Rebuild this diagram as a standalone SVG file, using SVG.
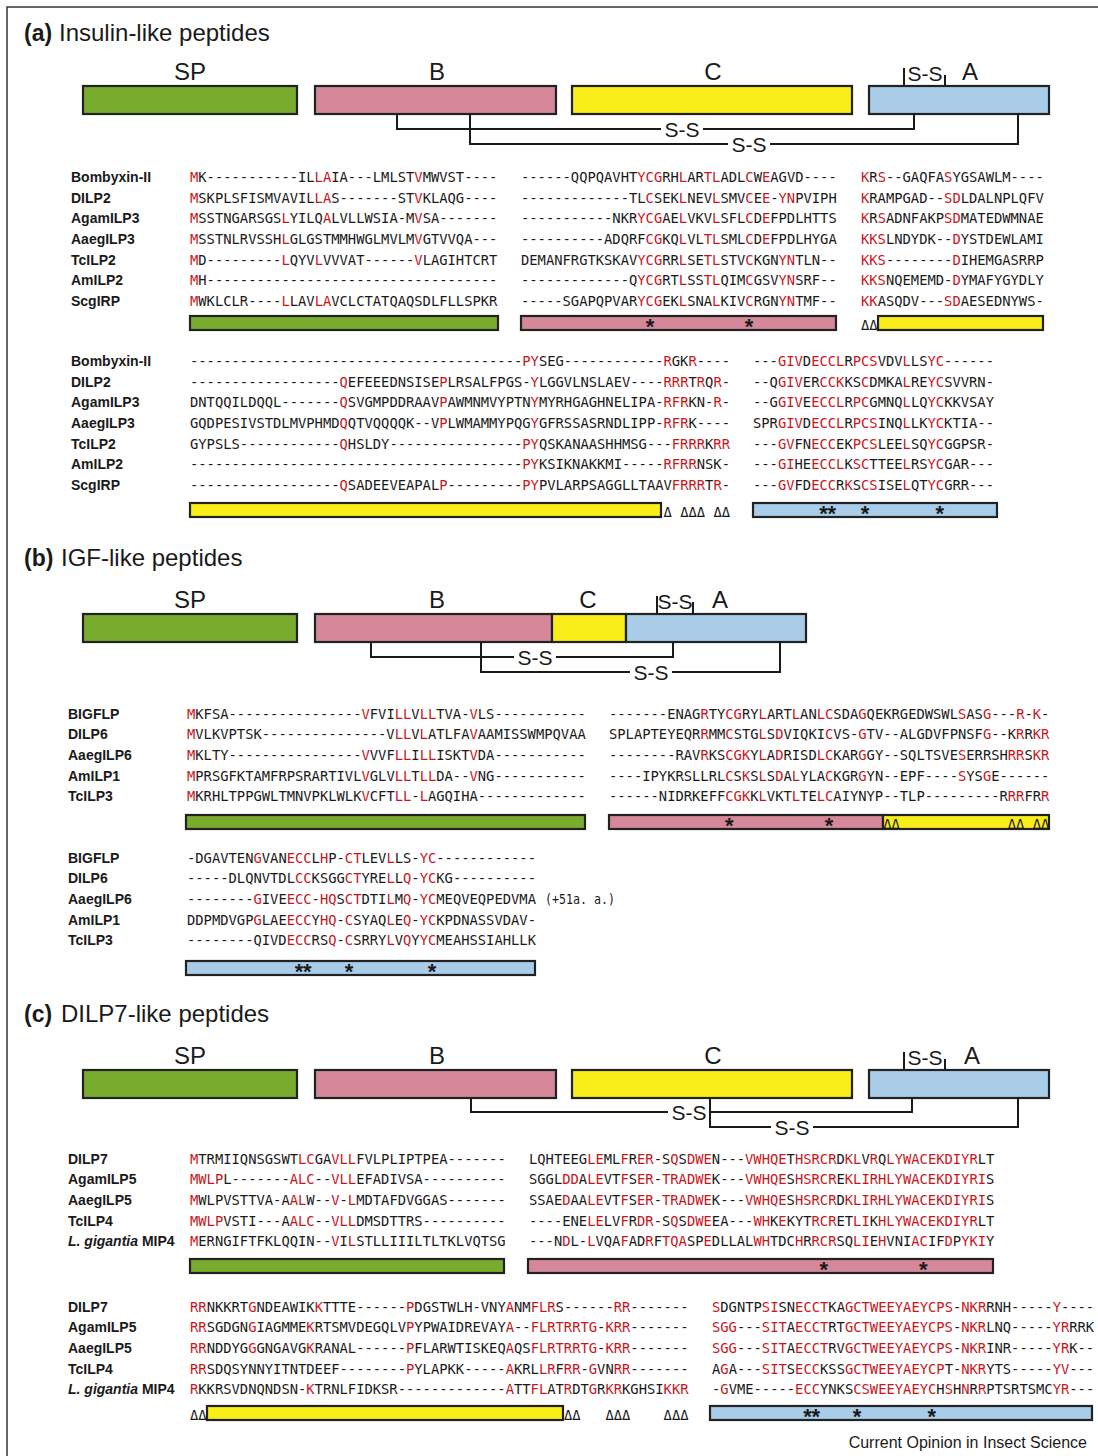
<svg xmlns="http://www.w3.org/2000/svg" width="1098" height="1456" viewBox="0 0 1098 1456">
<style>
.sans{font-family:"Liberation Sans",Arial,sans-serif;fill:#1a1a1a}
.ttl{font-size:24px}
.tb{font-weight:bold;font-size:23px}
.dl{font-size:24px;text-anchor:middle}
.ss{font-size:21px;text-anchor:middle}
.lab{font-family:"Liberation Sans",Arial,sans-serif;font-weight:bold;font-size:14px;fill:#1a1a1a}
.seq{font-family:"DejaVu Sans Mono",monospace;font-size:13.8px;fill:#1a1a1a}
.r{fill:#C8161D}
.tri{font-family:"DejaVu Sans Mono",monospace;font-size:13.8px;fill:#1a1a1a}
.star{font-family:"Liberation Sans",Arial,sans-serif;font-weight:bold;font-size:22px;fill:#1a1a1a;text-anchor:middle}
.bar{stroke:#222;stroke-width:2.2}
.gr{fill:#79AC2E}.pk{fill:#D4889A}.ye{fill:#F9ED1A}.bl{fill:#A9CDE8}
.con{fill:none;stroke:#1a1a1a;stroke-width:2}
.bg{fill:#fff}
</style>
<rect width="1098" height="1456" fill="#fff"/>
<path d="M7,1456 V7 H1098" fill="none" stroke="#333" stroke-width="1.5"/>

<!-- ================= (a) ================= -->
<g id="title-a"><text class="sans tb" x="24" y="41">(a)</text><text class="sans ttl" x="59" y="41">Insulin-like peptides</text></g>
<g id="a-SP"><rect class="bar gr" x="83" y="86" width="214" height="28"/><text class="sans dl" x="190" y="80">SP</text></g>
<g id="a-B"><rect class="bar pk" x="315" y="86" width="241" height="28"/><text class="sans dl" x="437" y="80">B</text></g>
<g id="a-C"><rect class="bar ye" x="572" y="86" width="280" height="28"/><text class="sans dl" x="713" y="80">C</text></g>
<g id="a-A"><rect class="bar bl" x="869" y="86" width="180" height="28"/><text class="sans dl" x="970" y="80">A</text></g>

<!-- ================= (b) ================= -->
<g id="title-b"><text class="sans tb" x="24" y="566">(b)</text><text class="sans ttl" x="61" y="566">IGF-like peptides</text></g>
<g id="b-SP"><rect class="bar gr" x="83" y="614" width="214" height="28"/><text class="sans dl" x="190" y="608">SP</text></g>
<g id="b-B"><rect class="bar pk" x="315" y="614" width="237" height="28"/><text class="sans dl" x="437" y="608">B</text></g>
<g id="b-C"><rect class="bar ye" x="552" y="614" width="74" height="28"/><text class="sans dl" x="588" y="608">C</text></g>
<g id="b-A"><rect class="bar bl" x="626" y="614" width="180" height="28"/><text class="sans dl" x="720" y="608">A</text></g>

<!-- ================= (c) ================= -->
<g id="title-c"><text class="sans tb" x="24" y="1022">(c)</text><text class="sans ttl" x="61" y="1022">DILP7-like peptides</text></g>
<g id="c-SP"><rect class="bar gr" x="83" y="1070" width="214" height="28"/><text class="sans dl" x="190" y="1064">SP</text></g>
<g id="c-B"><rect class="bar pk" x="315" y="1070" width="241" height="28"/><text class="sans dl" x="437" y="1064">B</text></g>
<g id="c-C"><rect class="bar ye" x="572" y="1070" width="280" height="28"/><text class="sans dl" x="713" y="1064">C</text></g>
<g id="c-A"><rect class="bar bl" x="869" y="1070" width="180" height="28"/><text class="sans dl" x="972" y="1064">A</text></g>

<!-- ================= connectors ================= -->
<g id="connectors">
<path class="con" d="M904,86 V68 M945,86 V75"/>
<text class="sans ss" x="925" y="81">S-S</text>
<path class="con" d="M397,114 V129 H914 V114"/>
<rect class="bg" x="661" y="121" width="42" height="17"/><text class="sans ss" x="682" y="137">S-S</text>
<path class="con" d="M470,114 V144 H1018 V114"/>
<rect class="bg" x="728" y="136" width="42" height="17"/><text class="sans ss" x="749" y="152">S-S</text>

<path class="con" d="M657,614 V596 M693,614 V602"/>
<text class="sans ss" x="675" y="609">S-S</text>
<path class="con" d="M371,642 V657 H673 V642"/>
<rect class="bg" x="514" y="649" width="42" height="17"/><text class="sans ss" x="535" y="665">S-S</text>
<path class="con" d="M481,642 V672 H780 V642"/>
<rect class="bg" x="630" y="664" width="42" height="17"/><text class="sans ss" x="651" y="680">S-S</text>

<path class="con" d="M904,1070 V1052 M945,1070 V1059"/>
<text class="sans ss" x="925" y="1065">S-S</text>
<path class="con" d="M471,1098 V1112 H912 V1098"/>
<rect class="bg" x="668" y="1104" width="42" height="17"/><text class="sans ss" x="689" y="1120">S-S</text>
<path class="con" d="M710,1098 V1127 H1018 V1098"/>
<rect class="bg" x="771" y="1119" width="42" height="17"/><text class="sans ss" x="792" y="1135">S-S</text>
</g>

<!-- ================= (a) alignment 1 ================= -->
<g id="a-align1">
<text class="lab" x="71" y="182">Bombyxin-II</text>
<text class="lab" x="71" y="202.7">DILP2</text>
<text class="lab" x="71" y="223.3">AgamILP3</text>
<text class="lab" x="71" y="244">AaegILP3</text>
<text class="lab" x="71" y="264.7">TcILP2</text>
<text class="lab" x="71" y="285.3">AmILP2</text>
<text class="lab" x="71" y="306">ScgIRP</text>

<text class="seq" x="190" y="182"><tspan class="r">M</tspan>K-----------IL<tspan class="r">LA</tspan>IA---LMLST<tspan class="r">V</tspan>MWVST----</text>
<text class="seq" x="190" y="202.7"><tspan class="r">M</tspan>SKPLSFISMVAVIL<tspan class="r">LA</tspan>S-------ST<tspan class="r">V</tspan>KLAQG----</text>
<text class="seq" x="190" y="223.3"><tspan class="r">M</tspan>SSTNGARSGS<tspan class="r">L</tspan>YILQ<tspan class="r">A</tspan>LVLLWSIA-M<tspan class="r">V</tspan>SA-------</text>
<text class="seq" x="190" y="244"><tspan class="r">M</tspan>SSTNLRVSSH<tspan class="r">L</tspan>GLGSTMMHWGLMVLM<tspan class="r">V</tspan>GTVVQA---</text>
<text class="seq" x="190" y="264.7"><tspan class="r">M</tspan>D---------<tspan class="r">L</tspan>QYV<tspan class="r">L</tspan>VVVAT------<tspan class="r">V</tspan>LAGIHTCRT</text>
<text class="seq" x="190" y="285.3"><tspan class="r">M</tspan>H-----------------------------------</text>
<text class="seq" x="190" y="306"><tspan class="r">M</tspan>WKLCLR----<tspan class="r">L</tspan>LAV<tspan class="r">LA</tspan>VCLCTATQAQSDLFLLSPKR</text>

<text class="seq" x="521" y="182">------QQPQAVHT<tspan class="r">YCG</tspan>RH<tspan class="r">L</tspan>AR<tspan class="r">TL</tspan>ADL<tspan class="r">C</tspan>W<tspan class="r">E</tspan>AGVD----</text>
<text class="seq" x="521" y="202.7">-------------TL<tspan class="r">C</tspan>SEK<tspan class="r">L</tspan>NEV<tspan class="r">L</tspan>SMV<tspan class="r">C</tspan>E<tspan class="r">E</tspan>-<tspan class="r">YN</tspan>PVIPH</text>
<text class="seq" x="521" y="223.3">-----------NKR<tspan class="r">YCG</tspan>AE<tspan class="r">L</tspan>VKV<tspan class="r">L</tspan>SFL<tspan class="r">C</tspan>D<tspan class="r">E</tspan>FPDLHTTS</text>
<text class="seq" x="521" y="244">----------ADQRF<tspan class="r">CG</tspan>KQ<tspan class="r">L</tspan>VL<tspan class="r">TL</tspan>SML<tspan class="r">C</tspan>D<tspan class="r">E</tspan>FPDLHYGA</text>
<text class="seq" x="521" y="264.7">DEMANFRGTKSKAV<tspan class="r">YCG</tspan>RR<tspan class="r">L</tspan>SE<tspan class="r">TL</tspan>STV<tspan class="r">C</tspan>KGN<tspan class="r">YN</tspan>TLN--</text>
<text class="seq" x="521" y="285.3">-------------Q<tspan class="r">YCG</tspan>RT<tspan class="r">L</tspan>SS<tspan class="r">TL</tspan>QIM<tspan class="r">C</tspan>GSV<tspan class="r">YN</tspan>SRF--</text>
<text class="seq" x="521" y="306">-----SGAPQPVAR<tspan class="r">YCG</tspan>EK<tspan class="r">L</tspan>SNA<tspan class="r">L</tspan>KIV<tspan class="r">C</tspan>RGN<tspan class="r">YN</tspan>TMF--</text>

<text class="seq" x="861" y="182"><tspan class="r">K</tspan>R<tspan class="r">S</tspan>--GAQFA<tspan class="r">S</tspan>YGSAWLM----</text>
<text class="seq" x="861" y="202.7"><tspan class="r">K</tspan>RAMPGAD--<tspan class="r">SD</tspan>LDALNPLQFV</text>
<text class="seq" x="861" y="223.3"><tspan class="r">K</tspan>R<tspan class="r">S</tspan>ADNFAKP<tspan class="r">SD</tspan>MATEDWMNAE</text>
<text class="seq" x="861" y="244"><tspan class="r">KKS</tspan>LNDYDK--<tspan class="r">D</tspan>YSTDEWLAMI</text>
<text class="seq" x="861" y="264.7"><tspan class="r">KKS</tspan>--------<tspan class="r">D</tspan>IHEMGASRRP</text>
<text class="seq" x="861" y="285.3"><tspan class="r">KKS</tspan>NQEMEMD-<tspan class="r">D</tspan>YMAFYGYDLY</text>
<text class="seq" x="861" y="306"><tspan class="r">KK</tspan>ASQDV---<tspan class="r">SD</tspan>AESEDNYWS-</text>

<rect class="bar gr" x="190" y="316" width="308" height="14"/>
<rect class="bar pk" x="521" y="316" width="315" height="14"/>
<rect class="bar ye" x="878" y="316" width="165" height="14"/>
<text class="tri" x="861" y="330">ΔΔ</text>
<text class="star" x="650" y="333.5">*</text><text class="star" x="749" y="333.5">*</text>
</g>

<!-- ================= (a) alignment 2 ================= -->
<g id="a-align2">
<text class="lab" x="71" y="366">Bombyxin-II</text>
<text class="lab" x="71" y="386.7">DILP2</text>
<text class="lab" x="71" y="407.3">AgamILP3</text>
<text class="lab" x="71" y="428">AaegILP3</text>
<text class="lab" x="71" y="448.7">TcILP2</text>
<text class="lab" x="71" y="469.3">AmILP2</text>
<text class="lab" x="71" y="490">ScgIRP</text>

<text class="seq" x="190" y="366">----------------------------------------<tspan class="r">PY</tspan>SEG------------<tspan class="r">R</tspan>GK<tspan class="r">R</tspan>----</text>
<text class="seq" x="190" y="386.7">------------------<tspan class="r">Q</tspan>EFEEEDNSISE<tspan class="r">P</tspan>LRSALFPGS-<tspan class="r">Y</tspan>LGGVLNSLAEV----<tspan class="r">RRR</tspan>T<tspan class="r">R</tspan>Q<tspan class="r">R</tspan>-</text>
<text class="seq" x="190" y="407.3">DNTQQILDQQL-------<tspan class="r">Q</tspan>SVGMPDDRAAV<tspan class="r">P</tspan>AWMNMVYPTN<tspan class="r">Y</tspan>MYRHGAGHNELIPA-<tspan class="r">RFR</tspan>KN-<tspan class="r">R</tspan>-</text>
<text class="seq" x="190" y="428">GQDPESIVSTDLMVPHMD<tspan class="r">Q</tspan>QTVQQQQK--V<tspan class="r">P</tspan>LWMAMMYPQG<tspan class="r">Y</tspan>GFRSSASRNDLIPP-<tspan class="r">RFR</tspan>K----</text>
<text class="seq" x="190" y="448.7">GYPSLS------------<tspan class="r">Q</tspan>HSLDY----------------<tspan class="r">PY</tspan>QSKANAASHHMSG---<tspan class="r">FRRR</tspan>K<tspan class="r">RR</tspan></text>
<text class="seq" x="190" y="469.3">----------------------------------------<tspan class="r">PY</tspan>KSIKNAKKMI-----<tspan class="r">RFRR</tspan>NSK-</text>
<text class="seq" x="190" y="490">------------------<tspan class="r">Q</tspan>SADEEVEAPAL<tspan class="r">P</tspan>---------<tspan class="r">PY</tspan>PVLARPSAGGLLTAAV<tspan class="r">FRRR</tspan>T<tspan class="r">R</tspan>-</text>

<text class="seq" x="753" y="366">---<tspan class="r">GIV</tspan>D<tspan class="r">ECCL</tspan>R<tspan class="r">PCS</tspan>VDV<tspan class="r">L</tspan>LS<tspan class="r">YC</tspan>------</text>
<text class="seq" x="753" y="386.7">--Q<tspan class="r">GIV</tspan>ER<tspan class="r">CCK</tspan>KS<tspan class="r">C</tspan>DMKA<tspan class="r">L</tspan>RE<tspan class="r">YC</tspan>SVVRN-</text>
<text class="seq" x="753" y="407.3">--G<tspan class="r">GIV</tspan>E<tspan class="r">ECCL</tspan>R<tspan class="r">PC</tspan>GMNQ<tspan class="r">L</tspan>LQ<tspan class="r">YC</tspan>KKVSAY</text>
<text class="seq" x="753" y="428">SPR<tspan class="r">GIV</tspan>D<tspan class="r">ECCL</tspan>R<tspan class="r">PCS</tspan>INQ<tspan class="r">L</tspan>LK<tspan class="r">YC</tspan>KTIA--</text>
<text class="seq" x="753" y="448.7">---<tspan class="r">GV</tspan>FN<tspan class="r">ECC</tspan>EK<tspan class="r">PCS</tspan>LEE<tspan class="r">L</tspan>SQ<tspan class="r">YC</tspan>GGPSR-</text>
<text class="seq" x="753" y="469.3">---<tspan class="r">GI</tspan>HE<tspan class="r">ECCL</tspan>K<tspan class="r">SC</tspan>TTEE<tspan class="r">L</tspan>RS<tspan class="r">YC</tspan>GAR---</text>
<text class="seq" x="753" y="490">---<tspan class="r">GV</tspan>FD<tspan class="r">ECC</tspan>R<tspan class="r">K</tspan>S<tspan class="r">CS</tspan>ISE<tspan class="r">L</tspan>QT<tspan class="r">YC</tspan>GRR---</text>

<rect class="bar ye" x="190" y="503" width="471" height="14"/>
<rect class="bar bl" x="753" y="503" width="244" height="14"/>
<text class="tri" x="663.6" y="517">Δ ΔΔΔ ΔΔ</text>
<text class="star" x="823.6" y="520.5">*</text><text class="star" x="831.9" y="520.5">*</text>
<text class="star" x="865" y="520.5">*</text><text class="star" x="939.7" y="520.5">*</text>
</g>

<!-- ================= (b) alignment 1 ================= -->
<g id="b-align1">
<text class="lab" x="68" y="718.5">BIGFLP</text>
<text class="lab" x="68" y="739.2">DILP6</text>
<text class="lab" x="68" y="759.8">AaegILP6</text>
<text class="lab" x="68" y="780.5">AmILP1</text>
<text class="lab" x="68" y="801.2">TcILP3</text>

<text class="seq" x="187" y="718.5"><tspan class="r">M</tspan>KFSA----------------<tspan class="r">V</tspan>FVI<tspan class="r">LL</tspan>V<tspan class="r">LL</tspan>TVA-<tspan class="r">V</tspan>LS-----------</text>
<text class="seq" x="187" y="739.2"><tspan class="r">M</tspan>VLKVPTSK---------------V<tspan class="r">LL</tspan>V<tspan class="r">L</tspan>ATLFA<tspan class="r">V</tspan>AAMISSWMPQVAA</text>
<text class="seq" x="187" y="759.8"><tspan class="r">M</tspan>KLTY----------------<tspan class="r">V</tspan>VVF<tspan class="r">LL</tspan>I<tspan class="r">LL</tspan>ISKT<tspan class="r">V</tspan>DA-----------</text>
<text class="seq" x="187" y="780.5"><tspan class="r">M</tspan>PRSGFKTAMFRPSRARTIVL<tspan class="r">V</tspan>GLV<tspan class="r">LL</tspan>T<tspan class="r">LL</tspan>DA--<tspan class="r">V</tspan>NG-----------</text>
<text class="seq" x="187" y="801.2"><tspan class="r">M</tspan>KRHLTPPGWLTMNVPKLWLK<tspan class="r">V</tspan>CFT<tspan class="r">LL</tspan>-<tspan class="r">L</tspan>AGQIHA-------------</text>

<text class="seq" x="609" y="718.5">-------ENAG<tspan class="r">R</tspan>TY<tspan class="r">CG</tspan>RY<tspan class="r">L</tspan>ART<tspan class="r">L</tspan>AN<tspan class="r">LC</tspan>SDA<tspan class="r">G</tspan>QEKRGEDWSWL<tspan class="r">S</tspan>AS<tspan class="r">G</tspan>---<tspan class="r">R</tspan>-<tspan class="r">K</tspan>-</text>
<text class="seq" x="609" y="739.2">SPLAPTEYEQR<tspan class="r">R</tspan>MM<tspan class="r">C</tspan>STG<tspan class="r">L</tspan>S<tspan class="r">D</tspan>VIQKI<tspan class="r">C</tspan>VS-<tspan class="r">G</tspan>TV--ALGDVFPNSF<tspan class="r">G</tspan>--K<tspan class="r">R</tspan>R<tspan class="r">KR</tspan></text>
<text class="seq" x="609" y="759.8">--------RAV<tspan class="r">R</tspan>KS<tspan class="r">CGK</tspan>Y<tspan class="r">L</tspan>A<tspan class="r">D</tspan>RISD<tspan class="r">LC</tspan>KAR<tspan class="r">G</tspan>GY--SQLTSVE<tspan class="r">S</tspan>ERRSH<tspan class="r">RR</tspan>S<tspan class="r">KR</tspan></text>
<text class="seq" x="609" y="780.5">----IPYKRSLLRL<tspan class="r">C</tspan>S<tspan class="r">K</tspan>S<tspan class="r">L</tspan>S<tspan class="r">D</tspan>A<tspan class="r">L</tspan>YLA<tspan class="r">C</tspan>KGR<tspan class="r">G</tspan>YN--EPF----<tspan class="r">S</tspan>YS<tspan class="r">G</tspan>E------</text>
<text class="seq" x="609" y="801.2">------NIDRKEFF<tspan class="r">CGK</tspan>K<tspan class="r">L</tspan>VKT<tspan class="r">L</tspan>TE<tspan class="r">LC</tspan>AIYNYP--TLP---------R<tspan class="r">RR</tspan>FR<tspan class="r">R</tspan></text>

<rect class="bar gr" x="186" y="815" width="399" height="14"/>
<rect class="bar pk" x="609" y="815" width="274" height="14"/>
<rect class="bar ye" x="883" y="815" width="166" height="14"/>
<text class="tri" x="883.2" y="829">ΔΔ</text>
<text class="tri" x="1007.8" y="829">ΔΔ ΔΔ</text>
<text class="star" x="729.4" y="832.5">*</text><text class="star" x="829" y="832.5">*</text>
</g>

<!-- ================= (b) alignment 2 ================= -->
<g id="b-align2">
<text class="lab" x="68" y="862.5">BIGFLP</text>
<text class="lab" x="68" y="883.2">DILP6</text>
<text class="lab" x="68" y="903.8">AaegILP6</text>
<text class="lab" x="68" y="924.5">AmILP1</text>
<text class="lab" x="68" y="945.2">TcILP3</text>

<text class="seq" x="187" y="862.5">-DGAVTEN<tspan class="r">G</tspan>VAN<tspan class="r">ECC</tspan>L<tspan class="r">H</tspan>P-<tspan class="r">CT</tspan>LEV<tspan class="r">L</tspan>LS-<tspan class="r">YC</tspan>------------</text>
<text class="seq" x="187" y="883.2">-----DLQNVTDL<tspan class="r">CC</tspan>KSGG<tspan class="r">CT</tspan>YRE<tspan class="r">L</tspan>L<tspan class="r">Q</tspan>-<tspan class="r">YC</tspan>KG----------</text>
<text class="seq" x="187" y="903.8">--------<tspan class="r">G</tspan>IVE<tspan class="r">ECC</tspan>-<tspan class="r">HQ</tspan>S<tspan class="r">CT</tspan>DTI<tspan class="r">L</tspan>M<tspan class="r">Q</tspan>-<tspan class="r">YC</tspan>MEQVEQPEDVMA</text>
<text class="seq" x="187" y="924.5">DDPMDVGP<tspan class="r">G</tspan>LAE<tspan class="r">ECC</tspan>Y<tspan class="r">HQ</tspan>-<tspan class="r">C</tspan>SYAQ<tspan class="r">L</tspan>E<tspan class="r">Q</tspan>-<tspan class="r">YC</tspan>KPDNASSVDAV-</text>
<text class="seq" x="187" y="945.2">--------QIVD<tspan class="r">ECC</tspan>RS<tspan class="r">Q</tspan>-<tspan class="r">C</tspan>SRRY<tspan class="r">L</tspan>V<tspan class="r">Q</tspan>Y<tspan class="r">YC</tspan>MEAHSSIAHLLK</text>
<text class="seq" x="545" y="903.8" textLength="70" lengthAdjust="spacingAndGlyphs">(+51a. a.)</text>

<rect class="bar bl" x="186" y="961" width="349" height="14"/>
<text class="star" x="299" y="978.5">*</text><text class="star" x="307.3" y="978.5">*</text>
<text class="star" x="349" y="978.5">*</text><text class="star" x="432" y="978.5">*</text>
</g>

<!-- ================= (c) alignment 1 ================= -->
<g id="c-align1">
<text class="lab" x="68" y="1163.5">DILP7</text>
<text class="lab" x="68" y="1184.2">AgamILP5</text>
<text class="lab" x="68" y="1204.8">AaegILP5</text>
<text class="lab" x="68" y="1225.5">TcILP4</text>
<text class="lab" x="68" y="1246.2"><tspan font-style="italic">L. gigantia</tspan> MIP4</text>

<text class="seq" x="190" y="1163.5"><tspan class="r">M</tspan>TRMIIQNSGSWT<tspan class="r">LC</tspan>GA<tspan class="r">VLL</tspan>FVLPLIPTPEA-------</text>
<text class="seq" x="190" y="1184.2"><tspan class="r">MWLP</tspan>L-------<tspan class="r">ALC</tspan>--<tspan class="r">VLL</tspan>EFADIVSA----------</text>
<text class="seq" x="190" y="1204.8"><tspan class="r">M</tspan>WLPVSTTVA-A<tspan class="r">AL</tspan>W--<tspan class="r">V</tspan>-<tspan class="r">L</tspan>MDTAFDVGGAS-------</text>
<text class="seq" x="190" y="1225.5"><tspan class="r">MWLP</tspan>VSTI---A<tspan class="r">ALC</tspan>--<tspan class="r">VLL</tspan>DMSDTTRS----------</text>
<text class="seq" x="190" y="1246.2"><tspan class="r">M</tspan>ERNGIFTFKLQQIN--<tspan class="r">V</tspan>I<tspan class="r">L</tspan>STLLIIILTLTKLVQTSG</text>

<text class="seq" x="529" y="1163.5">LQHTEEG<tspan class="r">LE</tspan>ML<tspan class="r">F</tspan>R<tspan class="r">ER</tspan>-S<tspan class="r">Q</tspan>S<tspan class="r">DWE</tspan>N---<tspan class="r">VWHQE</tspan>T<tspan class="r">HSRCR</tspan>D<tspan class="r">KL</tspan>V<tspan class="r">R</tspan>Q<tspan class="r">LYWACEKDIYR</tspan>LT</text>
<text class="seq" x="529" y="1184.2">SGGL<tspan class="r">DD</tspan>A<tspan class="r">LE</tspan>VT<tspan class="r">F</tspan>S<tspan class="r">ER</tspan>-<tspan class="r">TRADWE</tspan>K---<tspan class="r">VWHQE</tspan>S<tspan class="r">HSRCR</tspan>E<tspan class="r">KLIRHLYWACEKDIYRI</tspan>S</text>
<text class="seq" x="529" y="1204.8">SSAE<tspan class="r">D</tspan>AA<tspan class="r">LE</tspan>VT<tspan class="r">F</tspan>S<tspan class="r">ER</tspan>-<tspan class="r">TRADWE</tspan>K---<tspan class="r">VWHQE</tspan>S<tspan class="r">HSRCR</tspan>D<tspan class="r">KLIRHLYWACEKDIYRI</tspan>S</text>
<text class="seq" x="529" y="1225.5">----ENE<tspan class="r">LE</tspan>LV<tspan class="r">F</tspan>R<tspan class="r">DR</tspan>-S<tspan class="r">Q</tspan>S<tspan class="r">DWE</tspan>EA---<tspan class="r">WH</tspan>K<tspan class="r">E</tspan>KYT<tspan class="r">RCR</tspan>ET<tspan class="r">LI</tspan>K<tspan class="r">HLYWACEKDIYR</tspan>LT</text>
<text class="seq" x="529" y="1246.2">---N<tspan class="r">D</tspan>L-<tspan class="r">L</tspan>VQA<tspan class="r">F</tspan>AD<tspan class="r">R</tspan>F<tspan class="r">TQA</tspan>SP<tspan class="r">E</tspan>DLLAL<tspan class="r">WH</tspan>TDC<tspan class="r">H</tspan>R<tspan class="r">RCR</tspan>SQ<tspan class="r">LI</tspan>E<tspan class="r">H</tspan>VNI<tspan class="r">AC</tspan>IF<tspan class="r">D</tspan>P<tspan class="r">YKI</tspan>Y</text>

<rect class="bar gr" x="190" y="1259" width="314" height="14"/>
<rect class="bar pk" x="528" y="1259" width="465" height="14"/>
<text class="star" x="823.7" y="1276.5">*</text><text class="star" x="923.3" y="1276.5">*</text>
</g>

<!-- ================= (c) alignment 2 ================= -->
<g id="c-align2">
<text class="lab" x="68" y="1311.5">DILP7</text>
<text class="lab" x="68" y="1332.2">AgamILP5</text>
<text class="lab" x="68" y="1352.8">AaegILP5</text>
<text class="lab" x="68" y="1373.5">TcILP4</text>
<text class="lab" x="68" y="1394.2"><tspan font-style="italic">L. gigantia</tspan> MIP4</text>

<text class="seq" x="190" y="1311.5"><tspan class="r">RR</tspan>NKKRT<tspan class="r">G</tspan>NDEAWIK<tspan class="r">K</tspan>TTTE------<tspan class="r">P</tspan>DGSTWLH-VNY<tspan class="r">A</tspan>NM<tspan class="r">FLR</tspan>S------<tspan class="r">RR</tspan>-------</text>
<text class="seq" x="190" y="1332.2"><tspan class="r">RR</tspan>SGDGN<tspan class="r">G</tspan>IAGMME<tspan class="r">K</tspan>RTSMVDEGQLV<tspan class="r">P</tspan>YPWAIDREVAY<tspan class="r">A</tspan>--<tspan class="r">FLRTRRTG</tspan>-<tspan class="r">KRR</tspan>-------</text>
<text class="seq" x="190" y="1352.8"><tspan class="r">RR</tspan>NDDYG<tspan class="r">G</tspan>GNGAVG<tspan class="r">K</tspan>RANAL------<tspan class="r">P</tspan>FLARWTISKEQ<tspan class="r">A</tspan>QS<tspan class="r">FLRTRRTG</tspan>-<tspan class="r">KRR</tspan>-------</text>
<text class="seq" x="190" y="1373.5"><tspan class="r">RR</tspan>SDQSYNNYITNTDEEF--------<tspan class="r">P</tspan>YLAPKK-----<tspan class="r">A</tspan>KRL<tspan class="r">LR</tspan>F<tspan class="r">RR</tspan>-<tspan class="r">G</tspan>VN<tspan class="r">RR</tspan>-------</text>
<text class="seq" x="190" y="1394.2"><tspan class="r">R</tspan>KKRSVDNQNDSN-<tspan class="r">K</tspan>TRNLFIDKSR-------------<tspan class="r">A</tspan>TT<tspan class="r">FL</tspan>AT<tspan class="r">R</tspan>DT<tspan class="r">G</tspan>R<tspan class="r">KR</tspan>KGHSI<tspan class="r">KKR</tspan></text>

<text class="seq" x="712" y="1311.5"><tspan class="r">S</tspan>DGNTP<tspan class="r">SI</tspan>SN<tspan class="r">ECCT</tspan>KA<tspan class="r">GCTWEEYAEYCPS</tspan>-<tspan class="r">NKR</tspan>RNH-----<tspan class="r">Y</tspan>----</text>
<text class="seq" x="712" y="1332.2"><tspan class="r">SGG</tspan>---<tspan class="r">SIT</tspan>A<tspan class="r">ECCT</tspan>RT<tspan class="r">GCTWEEYAEYCPS</tspan>-<tspan class="r">NKR</tspan>LNQ-----<tspan class="r">YR</tspan>RRK</text>
<text class="seq" x="712" y="1352.8"><tspan class="r">SGG</tspan>---<tspan class="r">SIT</tspan>A<tspan class="r">ECCT</tspan>RV<tspan class="r">GCTWEEYAEYCPS</tspan>-<tspan class="r">NKR</tspan>INR-----<tspan class="r">YR</tspan>K--</text>
<text class="seq" x="712" y="1373.5">A<tspan class="r">G</tspan>A---<tspan class="r">SIT</tspan>S<tspan class="r">ECC</tspan>KSS<tspan class="r">GCTWEEYAEYCP</tspan>T-<tspan class="r">NKR</tspan>YTS-----<tspan class="r">YV</tspan>---</text>
<text class="seq" x="712" y="1394.2">-<tspan class="r">G</tspan>VME-----<tspan class="r">ECC</tspan>YNKS<tspan class="r">CSWEEYAEYC</tspan>H<tspan class="r">S</tspan>H<tspan class="r">N</tspan>R<tspan class="r">R</tspan>PTSRTSMC<tspan class="r">YR</tspan>---</text>

<rect class="bar ye" x="207" y="1406" width="356" height="14"/>
<rect class="bar bl" x="710" y="1406" width="382" height="14"/>
<text class="tri" x="190" y="1420">ΔΔ</text>
<text class="tri" x="563.9" y="1420">ΔΔ</text>
<text class="tri" x="605.4" y="1420">ΔΔΔ</text>
<text class="tri" x="663.6" y="1420">ΔΔΔ</text>
<text class="star" x="807.5" y="1423.5">*</text><text class="star" x="815.8" y="1423.5">*</text>
<text class="star" x="857" y="1423.5">*</text><text class="star" x="931.7" y="1423.5">*</text>
</g>

<text class="sans" x="1087" y="1448" font-size="16" text-anchor="end">Current Opinion in Insect Science</text>
</svg>
